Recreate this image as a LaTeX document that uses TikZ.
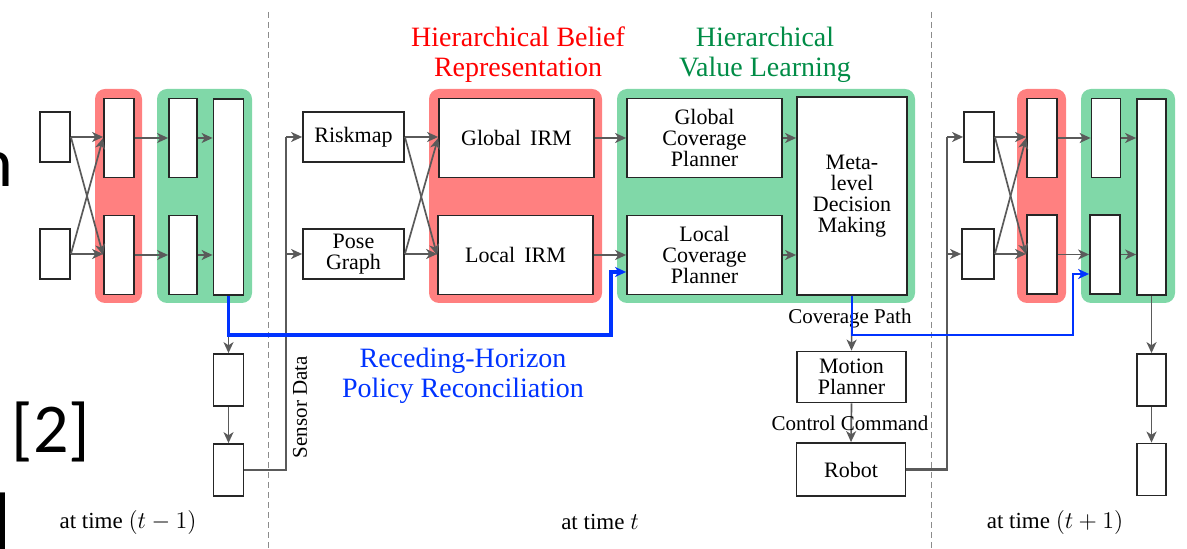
\documentclass[tikz,border=0pt]{standalone}
\usepackage{fontspec}
\setmainfont{Liberation Serif}
\newfontfamily\slidefont{Carlito}
\usetikzlibrary{arrows.meta}

\definecolor{beliefred}{RGB}{255,128,128}
\definecolor{valuegreen}{RGB}{128,216,168}
\definecolor{titlered}{RGB}{255,0,0}
\definecolor{titlegreen}{RGB}{0,140,70}
\definecolor{policyblue}{RGB}{0,51,255}
\definecolor{flowgray}{RGB}{90,90,90}

\tikzset{
  cell/.style={draw=black!85, fill=white, line width=0.9pt, inner sep=0pt, align=center,
    font=\fontsize{11}{10.5}\selectfont},
  port/.style={cell, minimum width=15pt, minimum height=25pt},
  slot/.style={cell, minimum width=15pt, minimum height=39.5pt},
  column/.style={cell, minimum width=15pt, minimum height=98pt},
  stepcell/.style={cell, minimum width=15pt, minimum height=26pt},
  module/.style={cell, minimum width=77.5pt, minimum height=39.5pt},
  block/.style={cell, minimum width=54.5pt, minimum height=25.5pt},
  flow/.style={draw=flowgray, line width=0.85pt, -{Stealth[length=5.5pt,width=5pt,inset=1.6pt]}},
  feed/.style={draw=flowgray, line width=1.4pt},
  policy/.style={draw=policyblue, line width=1.8pt, -{Stealth[length=5.5pt,width=5pt,inset=1.6pt]}},
  grouptitle/.style={align=center, font=\fontsize{14}{15}\selectfont},
  tag/.style={inner sep=0pt, font=\fontsize{10.5}{12}\selectfont},
  timetag/.style={inner sep=0pt, font=\fontsize{11.5}{13}\selectfont},
  timesep/.style={draw=black!45, line width=0.5pt, dash pattern=on 3pt off 2pt},
  slidetext/.style={inner sep=0pt, font=\slidefont\fontsize{35}{40}\selectfont},
}

\begin{document}
\begin{tikzpicture}[x=0.5pt, y=-0.5pt]
    \useasboundingbox (0,0) rectangle (1187,549);

    % Slide fragments around the figure
    \node[slidetext, anchor=base east] (slideN) at (14,187) {n};
    \node[slidetext] (slideRef) at (51,432) {[2]};
    \node[slidetext, anchor=north east] (slideBr) at (11,493) {]};

    % Time separators
    \draw[timesep] (268,12) -- (268,549);
    \draw[timesep] (931,12) -- (931,549);

    % Group backgrounds
    \fill[beliefred, rounded corners=5pt] (95,89) rectangle (142,303);
    \fill[valuegreen, rounded corners=5pt] (157,89) rectangle (252,303);
    \fill[beliefred, rounded corners=5pt] (429,89) rectangle (602,303);
    \fill[valuegreen, rounded corners=5pt] (617,89) rectangle (915,303);
    \fill[beliefred, rounded corners=5pt] (1017,89) rectangle (1066,303);
    \fill[valuegreen, rounded corners=5pt] (1081,89) rectangle (1175,303);

    % Group titles
    \node[grouptitle, text=titlered] (beliefTitle) at (518,55) {Hierarchical Belief\\Representation};
    \node[grouptitle, text=titlegreen] (valueTitle) at (765,55) {Hierarchical\\Value Learning};

    % Time t-1
    \node[port] (a1) at (55,137) {};
    \node[port] (a2) at (55,254) {};
    \node[slot] (r1) at (119,138) {};
    \node[slot] (r2) at (119,255) {};
    \node[slot, minimum width=14pt] (g1) at (183,138) {};
    \node[slot, minimum width=14pt] (g2) at (183,255) {};
    \node[column] (t1) at (228.5,197) {};
    \node[stepcell] (b1) at (228.5,380) {};
    \node[stepcell] (b2) at (228.5,470) {};

    \draw[flow] (a1.east) -- (a1.east -| r1.west);
    \draw[flow] (a1.east) -- (r2.west);
    \draw[flow] (a2.east) -- (r1.west);
    \draw[flow] (a2.east) -- (a2.east -| r2.west);
    \draw[flow] (r1.east) -- (g1.west);
    \draw[flow] (r2.east) -- (g2.west);
    \draw[flow] (g1.east) -- (g1.east -| t1.west);
    \draw[flow] (g2.east) -- (g2.east -| t1.west);
    \draw[flow] (t1.south) -- (b1.north);
    \draw[flow] (b1.south) -- (b2.north);

    % Time t
    \node[cell, minimum width=50.5pt, minimum height=25pt] (risk) at (353.5,137) {Riskmap};
    \node[cell, minimum width=50.5pt, minimum height=25pt] (pose) at (353.5,254) {Pose\\Graph};
    \node[module] (girm) at (516.5,138) {Global\, IRM};
    \node[module] (lirm) at (515.5,255) {Local\, IRM};
    \node[module] (gcp) at (704.5,138) {Global\\Coverage\\Planner};
    \node[module] (lcp) at (704.5,255) {Local\\Coverage\\Planner};
    \node[cell, minimum width=55pt, minimum height=99pt] (meta) at (852,196) {Meta-\\level\\Decision\\Making};
    \node[block] (motion) at (851.5,377) {Motion\\Planner};
    \node[block, minimum height=26.5pt] (robot) at (851,469.5) {Robot};

    % Sensor data feed
    \coordinate (sensTop) at (286,137);
    \draw[feed] (b2.east) -| (sensTop);
    \draw[flow] (sensTop) -- (risk.west);
    \draw[flow] (sensTop |- pose.west) -- (pose.west);
    \node[tag, rotate=90] (sensTag) at (300,407) {Sensor Data};

    \draw[flow] (risk.east) -- (risk.east -| girm.west);
    \draw[flow] (risk.east) -- (lirm.west);
    \draw[flow] (pose.east) -- (girm.west);
    \draw[flow] (pose.east) -- (pose.east -| lirm.west);
    \draw[flow] (girm.east) -- (girm.east -| gcp.west);
    \draw[flow] (lirm.east) -- (lirm.east -| lcp.west);
    \draw[flow] (gcp.east) -- (gcp.east -| meta.west);
    \draw[flow] (lcp.east) -- (lcp.east -| meta.west);
    \draw[flow] (meta.south) -- (motion.north);
    \draw[flow] (motion.south) -- (robot.north);
    \node[tag] (covTag) at (850,318) {Coverage Path};
    \node[tag] (ctrlTag) at (850,423) {Control Command};

    % Time t+1
    \node[port] (c1) at (979,137) {};
    \node[port, minimum width=16pt] (c2) at (978,254) {};
    \node[slot] (r3a) at (1042,138) {};
    \node[slot] (r3b) at (1042,254.5) {};
    \node[slot, minimum width=14.5pt] (g3a) at (1106,138) {};
    \node[slot, minimum width=15pt] (g3b) at (1105,254.5) {};
    \node[column, minimum width=14.5pt] (t3) at (1151.5,197) {};
    \node[stepcell, minimum width=14.5pt] (d1) at (1151.5,380) {};
    \node[stepcell, minimum width=14.5pt] (d2) at (1151.5,469.5) {};

    \coordinate (robTop) at (947,137);
    \draw[feed] (robot.east) -| (robTop);
    \draw[flow] (robTop) -- (c1.west);
    \draw[flow] (robTop |- c2.west) -- (c2.west);

    \draw[flow] (c1.east) -- (c1.east -| r3a.west);
    \draw[flow] (c1.east) -- (r3b.west);
    \draw[flow] (c2.east) -- (r3a.west);
    \draw[flow] (c2.east) -- (c2.east -| r3b.west);
    \draw[flow] (r3a.east) -- (r3a.east -| g3a.west);
    \draw[flow] (r3b.east) -- (r3b.east -| g3b.west);
    \draw[flow] (g3a.east) -- (g3a.east -| t3.west);
    \draw[flow] (g3b.east) -- (g3b.east -| t3.west);
    \draw[flow] (t3.south) -- (d1.north);
    \draw[flow] (d1.south) -- (d2.north);

    % Receding-horizon policy reconciliation
    \coordinate (rhLeft) at (611,335);
    \coordinate (rhRight) at (1073,335);
    \draw[policy] (t1.south) |- (rhLeft) |- ([yshift=-8.5pt]lcp.west);
    \draw[policy, line width=1pt] (meta.south) |- (rhRight) |- ([yshift=-9.75pt]g3b.west);
    \node[grouptitle, text=policyblue] (rhTitle) at (463,376) {Receding-Horizon\\Policy Reconciliation};

    % Time labels
    \node[timetag] (timePrev) at (128,522) {at time $(t-1)$};
    \node[timetag] (timeNow) at (600,522) {at time $t$};
    \node[timetag] (timeNext) at (1055,522) {at time $(t+1)$};
\end{tikzpicture}
\end{document}
